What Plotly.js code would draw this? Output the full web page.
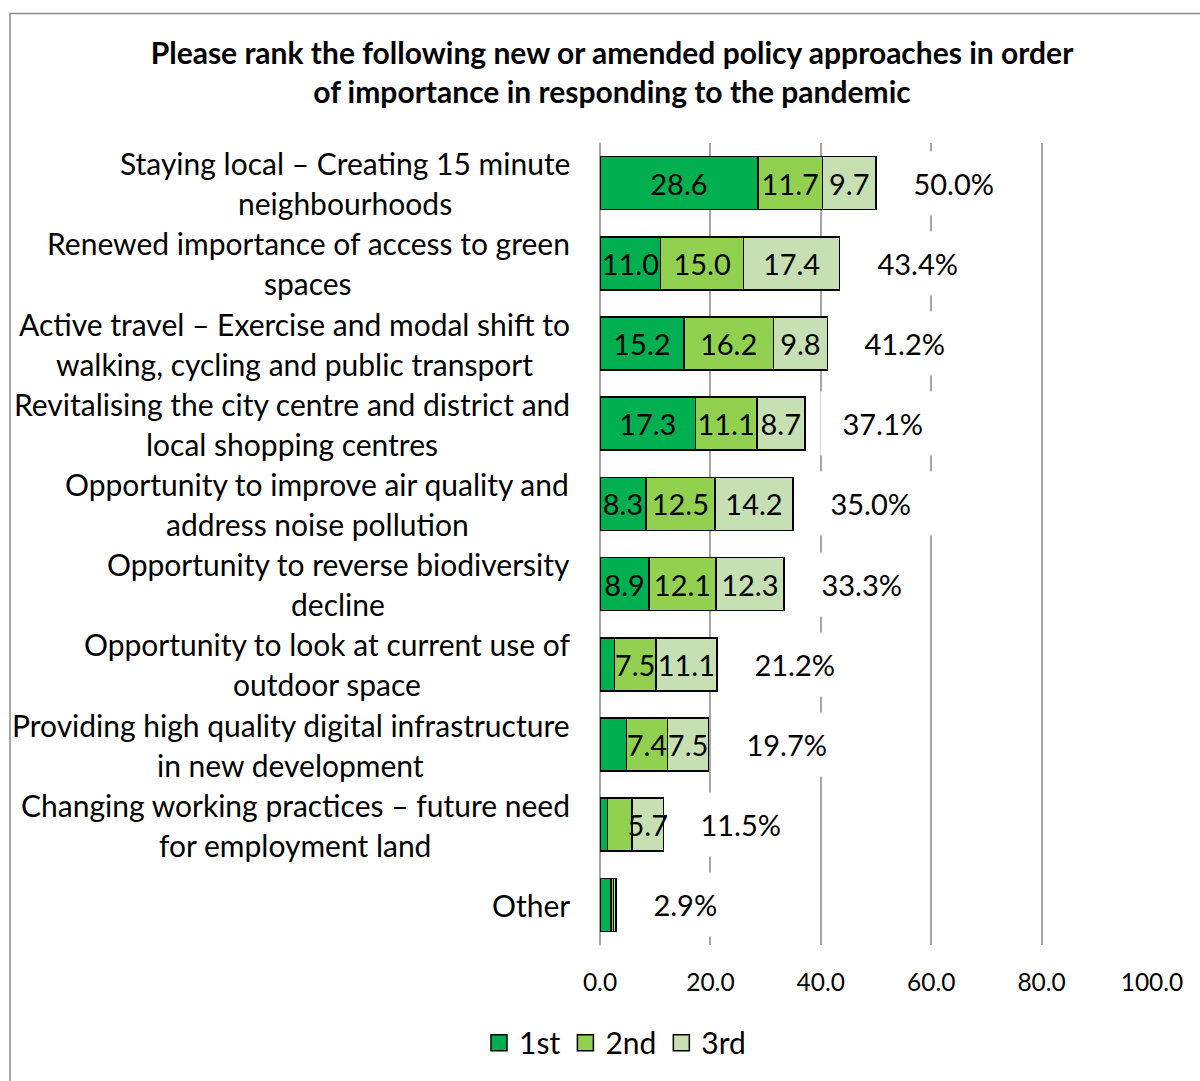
<!DOCTYPE html>
<html>
<head>
<meta charset="utf-8">
<script src="https://cdn.plot.ly/plotly-3.0.1.min.js"></script>
<style>html,body{margin:0;padding:0;background:#fff;} #chart{width:1200px;height:1081px;}</style>
</head>
<body>
<div id="chart"></div>
<script>
const categories = [
  "Staying local – Creating 15 minute<br>neighbourhoods",
  "Renewed importance of access to green<br>spaces",
  "Active travel – Exercise and modal shift to<br>walking, cycling and public transport",
  "Revitalising the city centre and district and<br>local shopping centres",
  "Opportunity to improve air quality and<br>address noise pollution",
  "Opportunity to reverse biodiversity<br>decline",
  "Opportunity to look at current use of<br>outdoor space",
  "Providing high quality digital infrastructure<br>in new development",
  "Changing working practices – future need<br>for employment land",
  "Other"
];
const first  = [28.6, 11.0, 15.2, 17.3, 8.3, 8.9, 2.6, 4.8, 1.4, 2.0];
const second = [11.7, 15.0, 16.2, 11.1, 12.5, 12.1, 7.5, 7.4, 4.4, 0.4];
const third  = [9.7, 17.4, 9.8, 8.7, 14.2, 12.3, 11.1, 7.5, 5.7, 0.5];
const totals = [50.0, 43.4, 41.2, 37.1, 35.0, 33.3, 21.2, 19.7, 11.5, 2.9];
const seriesNames = ["1st", "2nd", "3rd"];
const xTickValues = [0, 20, 40, 60, 80, 100];

const colors = ["#00b050", "#92d050", "#c6e0b4"];
const FONT = 'Lato, "Open Sans", sans-serif';
const W = 1200, H = 1081;
const M = {l: 600, r: 48, t: 143, b: 133};
const plotW = W - M.l - M.r, plotH = H - M.t - M.b;
const px2paperX = p => (p - M.l) / plotW;
const px2paperY = p => (H - M.b - p) / plotH;

const seriesValues = [first, second, third];
const traces = seriesValues.map((vals, i) => ({
  type: "bar",
  orientation: "h",
  name: seriesNames[i],
  x: vals,
  y: categories,
  text: vals.map(v => v >= 5 ? v.toFixed(1) : ""),
  texttemplate: "%{text}",
  textposition: "inside",
  insidetextanchor: "middle",
  textangle: 0,
  constraintext: "none",
  textfont: {family: FONT, size: 29, color: "#000"},
  marker: {color: colors[i], line: {color: "#000", width: 1.5}},
  showlegend: false,
  hoverinfo: "skip"
}));
// legend entries
seriesNames.forEach((n, i) => traces.push({
  type: "scatter", mode: "markers", name: n, x: [null], y: [null],
  marker: {symbol: "square", size: 20, color: colors[i], line: {color: "#000", width: 1.5}},
  hoverinfo: "skip", showlegend: true
}));

// category labels, centred lines, right edge at 570px
const ctx = document.createElement("canvas").getContext("2d");
const LABEL_SIZE = 30;
ctx.font = LABEL_SIZE + "px " + FONT;
const annotations = [];
categories.forEach(cat => {
  const lines = cat.split("<br>");
  const maxW = Math.max(...lines.map(l => ctx.measureText(l).width));
  const cx = 570 - maxW / 2;
  lines.forEach((l, j) => {
    annotations.push({
      xref: "paper", yref: "y", x: px2paperX(cx), y: cat,
      xanchor: "center", yanchor: "middle",
      yshift: (lines.length - 1) * 20 - j * 40,
      text: l, showarrow: false,
      font: {family: FONT, size: LABEL_SIZE, color: "#000"}
    });
  });
});
// total labels with white boxes
totals.forEach((t, i) => {
  annotations.push({
    xref: "x", yref: "y", x: t, y: categories[i],
    xanchor: "left", yanchor: "middle", xshift: 15,
    text: "\u00a0" + t.toFixed(1) + "%\u00a0", showarrow: false,
    bgcolor: "#fff", borderpad: 14,
    font: {family: FONT, size: 29, color: "#000"}
  });
});

const layout = {
  width: W, height: H,
  margin: M,
  paper_bgcolor: "#fff", plot_bgcolor: "#fff",
  barmode: "stack", bargap: 0.34,
  title: {
    text: "<b>Please rank the following new or amended policy approaches in order<br>of importance in responding to the pandemic</b>",
    font: {family: FONT, size: 30, color: "#000"},
    x: 612 / W, xanchor: "center", xref: "container",
    y: 1 - 64 / H, yanchor: "top", yref: "container"
  },
  xaxis: {
    range: [0, 100], tickvals: xTickValues, ticktext: xTickValues.map(v => v.toFixed(1)),
    showgrid: true, gridcolor: "#a6a6a6", gridwidth: 2,
    zeroline: true, zerolinecolor: "#a6a6a6", zerolinewidth: 2,
    showline: false, ticks: "", ticklabelstandoff: 20,
    tickfont: {family: FONT, size: 24.5, color: "#000"}, fixedrange: true
  },
  yaxis: {
    type: "category", autorange: "reversed", showticklabels: false,
    showgrid: false, zeroline: false, showline: false, ticks: "", fixedrange: true
  },
  legend: {
    orientation: "h", traceorder: "normal", x: px2paperX(615), xanchor: "center",
    y: px2paperY(1046), yanchor: "middle",
    font: {family: FONT, size: 30, color: "#000"}, itemwidth: 30
  },
  annotations: annotations,
  shapes: [{
    type: "rect", xref: "paper", yref: "paper", layer: "below",
    x0: px2paperX(10), x1: px2paperX(1250), y0: px2paperY(1120), y1: px2paperY(13),
    line: {color: "#8c8c8c", width: 1.5}, fillcolor: "rgba(0,0,0,0)"
  }],
  hovermode: false
};

Plotly.newPlot("chart", traces, layout, {displayModeBar: false, staticPlot: true});
</script>
</body>
</html>
